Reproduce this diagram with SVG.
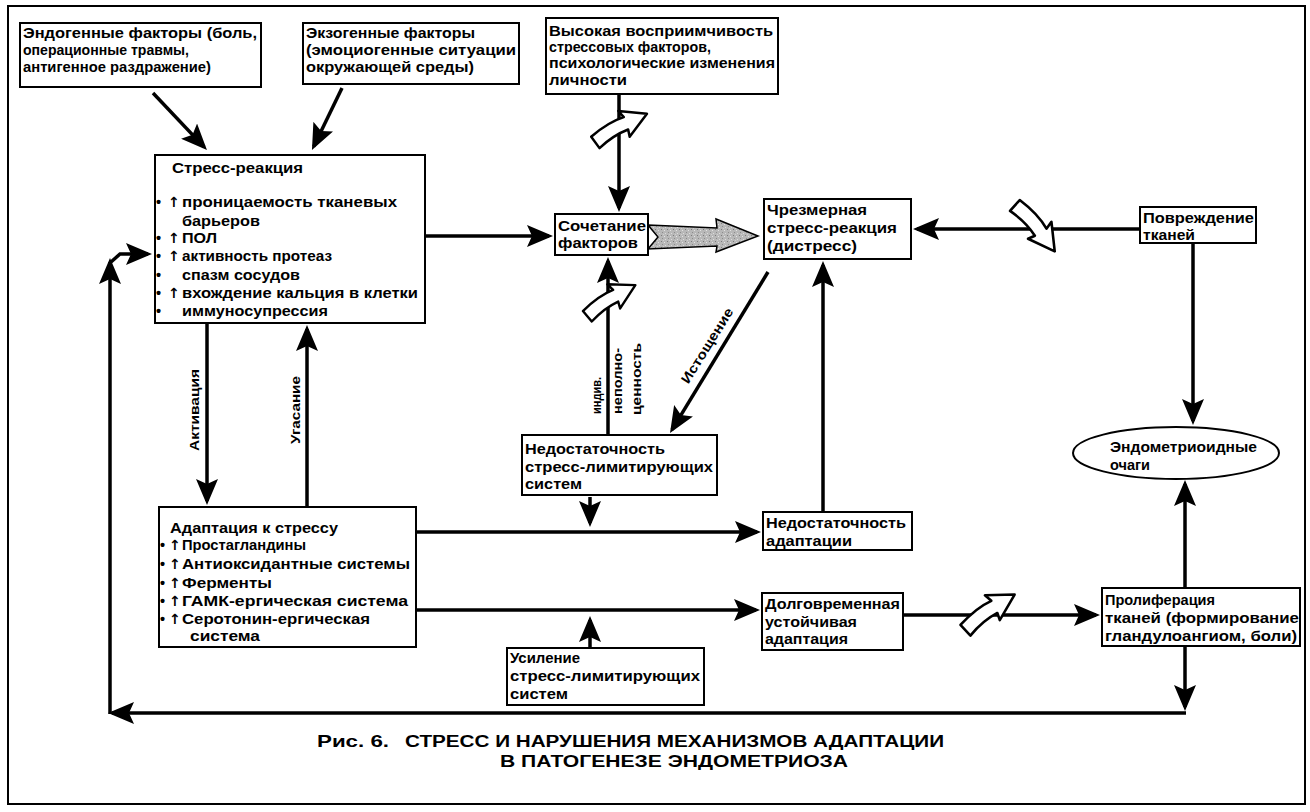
<svg xmlns="http://www.w3.org/2000/svg" width="1310" height="812" viewBox="0 0 1310 812">
<style>
.t{font-family:"Liberation Sans",Arial,"DejaVu Sans",sans-serif;font-weight:bold;font-size:14.5px;fill:#000}
.s{font-family:"Liberation Sans",Arial,"DejaVu Sans",sans-serif;font-weight:bold;font-size:13.5px;fill:#000}
.a{font-family:"DejaVu Sans","Liberation Sans",sans-serif;font-weight:bold;font-size:14px;fill:#000}
.cap{font-family:"Liberation Sans",Arial,sans-serif;font-weight:bold;font-size:16px;fill:#000}
.box{fill:#fff;stroke:#000;stroke-width:2}
.c{fill:none;stroke:#000;stroke-width:3.5}
.h{fill:#fff;stroke:#000;stroke-width:2.5;stroke-linejoin:round}
</style>
<defs>
<marker id="ah" viewBox="0 0 26 22" refX="22" refY="11" markerWidth="26" markerHeight="22" markerUnits="userSpaceOnUse" orient="auto">
<path d="M0,0 L26,11 L0,22 L5,11 Z" fill="#000"/>
</marker>
<pattern id="grain" width="6" height="6" patternUnits="userSpaceOnUse">
<rect width="6" height="6" fill="#b8b8b8"/>
<rect x="1" y="1" width="1" height="1" fill="#7a7a7a"/>
<rect x="4" y="2" width="1" height="1" fill="#e4e4e4"/>
<rect x="2" y="4" width="1" height="1" fill="#8c8c8c"/>
<rect x="5" y="5" width="1" height="1" fill="#dcdcdc"/>
<rect x="3" y="0" width="1" height="1" fill="#d0d0d0"/>
</pattern>
<path id="harrow" d="M0,-6 Q22,-11 38,-8 L36,-16 L60,0 L34,12 L36,5 Q20,3 2,8 Z"/>
</defs>
<rect width="1310" height="812" fill="#fff"/>
<rect x="8" y="6" width="1297" height="798" fill="none" stroke="#000" stroke-width="2"/>

<g id="connectors">
<path class="c" d="M153,93 L204.2,147.1" marker-end="url(#ah)"/>
<path class="c" d="M342,88 L313.7,146.4" marker-end="url(#ah)"/>
<path class="c" d="M425,236 L549,236" marker-end="url(#ah)"/>
<path class="c" d="M619,94 L619,208" marker-end="url(#ah)"/>
<path class="c" d="M608,435 L608,261" marker-end="url(#ah)"/>
<path class="c" d="M768,272 L672.1,429.6" marker-end="url(#ah)"/>
<path class="c" d="M1140,229 L917,229" marker-end="url(#ah)"/>
<path class="c" d="M1193,243 L1193,421" marker-end="url(#ah)"/>
<path class="c" d="M1185,588 L1185,484" marker-end="url(#ah)"/>
<path class="c" d="M1185,646 L1185,707" marker-end="url(#ah)"/>
<path class="c" d="M1186,713 L112,713" marker-end="url(#ah)"/>
<path class="c" d="M110,714 L110,262" marker-end="url(#ah)"/>
<path class="c" d="M111,262 L120,254 L148,254" marker-end="url(#ah)"/>
<path class="c" d="M207,323 L207,501" marker-end="url(#ah)"/>
<path class="c" d="M307,507 L307,329" marker-end="url(#ah)"/>
<path class="c" d="M416,532 L757,532" marker-end="url(#ah)"/>
<path class="c" d="M590,497 L590,523" marker-end="url(#ah)"/>
<path class="c" d="M590,648 L590,620" marker-end="url(#ah)"/>
<path class="c" d="M416,610 L756,610" marker-end="url(#ah)"/>
<path class="c" d="M823,512 L823,265" marker-end="url(#ah)"/>
<path class="c" d="M903,615 L1096,615" marker-end="url(#ah)"/>
<path d="M648,225 L717,228 L716,219 L758,236 L716,252 L717,246 L648,249 L658,237 Z" fill="url(#grain)" stroke="#000" stroke-width="1.5"/>
<use href="#harrow" class="h" transform="translate(594,142) rotate(-28)"/>
<use href="#harrow" class="h" transform="translate(586,316) rotate(-32) scale(0.97)"/>
<use href="#harrow" class="h" transform="translate(1015,204) rotate(50) scale(1.03)"/>
<use href="#harrow" class="h" transform="translate(964,630) rotate(-35) scale(1.03)"/>
<text class="s" transform="translate(199,410) rotate(-90)" text-anchor="middle" textLength="82" lengthAdjust="spacingAndGlyphs">Активация</text>
<text class="s" transform="translate(300,410) rotate(-90)" text-anchor="middle" textLength="68" lengthAdjust="spacingAndGlyphs">Угасание</text>
<text class="s" transform="translate(601,414) rotate(-90)" textLength="37" lengthAdjust="spacingAndGlyphs">индив.</text>
<text class="s" transform="translate(622,414) rotate(-90)" textLength="66" lengthAdjust="spacingAndGlyphs">неполно-</text>
<text class="s" transform="translate(641,415) rotate(-90)" textLength="72" lengthAdjust="spacingAndGlyphs">ценность</text>
<text class="s" transform="translate(711,348) rotate(-58)" text-anchor="middle" textLength="86" lengthAdjust="spacingAndGlyphs">Истощение</text>
</g>

<g id="n-endogenous">
<rect class="box" x="20" y="23" width="241" height="64"/>
<text class="t" x="23" y="38" textLength="234" lengthAdjust="spacingAndGlyphs">Эндогенные факторы (боль,</text>
<text class="t" x="23" y="55" textLength="166" lengthAdjust="spacingAndGlyphs">операционные травмы,</text>
<text class="t" x="23" y="72" textLength="188" lengthAdjust="spacingAndGlyphs">антигенное раздражение)</text>
</g>

<g id="n-exogenous">
<rect class="box" x="303" y="23" width="216" height="61"/>
<text class="t" x="306" y="38" textLength="169" lengthAdjust="spacingAndGlyphs">Экзогенные факторы</text>
<text class="t" x="306" y="55" textLength="210" lengthAdjust="spacingAndGlyphs">(эмоциогенные ситуации</text>
<text class="t" x="306" y="72" textLength="168" lengthAdjust="spacingAndGlyphs">окружающей среды)</text>
</g>

<g id="n-susceptibility">
<rect class="box" x="546" y="18" width="232" height="76"/>
<text class="t" x="549" y="36" textLength="224" lengthAdjust="spacingAndGlyphs">Высокая восприимчивость</text>
<text class="t" x="549" y="52" textLength="162" lengthAdjust="spacingAndGlyphs">стрессовых факторов,</text>
<text class="t" x="549" y="68" textLength="226" lengthAdjust="spacingAndGlyphs">психологические изменения</text>
<text class="t" x="549" y="85" textLength="78" lengthAdjust="spacingAndGlyphs">личности</text>
</g>

<g id="n-stress">
<rect class="box" x="155" y="155" width="270" height="168"/>
<text class="t" x="172" y="173" textLength="131" lengthAdjust="spacingAndGlyphs">Стресс-реакция</text>
<text class="t" x="156" y="207">•</text><text class="a" x="168" y="207">↑</text>
<text class="t" x="182" y="207" textLength="215" lengthAdjust="spacingAndGlyphs">проницаемость тканевых</text>
<text class="t" x="182" y="226" textLength="78" lengthAdjust="spacingAndGlyphs">барьеров</text>
<text class="t" x="156" y="243">•</text><text class="a" x="168" y="243">↑</text>
<text class="t" x="182" y="243" textLength="35" lengthAdjust="spacingAndGlyphs">ПОЛ</text>
<text class="t" x="156" y="261">•</text><text class="a" x="168" y="261">↑</text>
<text class="t" x="182" y="261" textLength="150" lengthAdjust="spacingAndGlyphs">активность протеаз</text>
<text class="t" x="156" y="280">•</text>
<text class="t" x="182" y="280" textLength="118" lengthAdjust="spacingAndGlyphs">спазм сосудов</text>
<text class="t" x="156" y="298">•</text><text class="a" x="168" y="298">↑</text>
<text class="t" x="182" y="298" textLength="236" lengthAdjust="spacingAndGlyphs">вхождение кальция в клетки</text>
<text class="t" x="156" y="316">•</text>
<text class="t" x="182" y="316" textLength="146" lengthAdjust="spacingAndGlyphs">иммуносупрессия</text>
</g>

<g id="n-combination">
<rect class="box" x="555" y="214" width="93" height="41"/>
<text class="t" x="558" y="231" textLength="88" lengthAdjust="spacingAndGlyphs">Сочетание</text>
<text class="t" x="558" y="248" textLength="80" lengthAdjust="spacingAndGlyphs">факторов</text>
</g>

<g id="n-distress">
<rect class="box" x="764" y="199" width="147" height="60"/>
<text class="t" x="767" y="215" textLength="100" lengthAdjust="spacingAndGlyphs">Чрезмерная</text>
<text class="t" x="767" y="233" textLength="130" lengthAdjust="spacingAndGlyphs">стресс-реакция</text>
<text class="t" x="767" y="251" textLength="90" lengthAdjust="spacingAndGlyphs">(дистресс)</text>
</g>

<g id="n-damage">
<rect class="box" x="1140" y="207" width="116" height="36"/>
<text class="t" x="1143" y="223" textLength="111" lengthAdjust="spacingAndGlyphs">Повреждение</text>
<text class="t" x="1143" y="240" textLength="52" lengthAdjust="spacingAndGlyphs">тканей</text>
</g>

<g id="n-foci">
<ellipse cx="1176" cy="453" rx="103" ry="26" fill="#fff" stroke="#000" stroke-width="2"/>
<text class="t" x="1110" y="452" textLength="147" lengthAdjust="spacingAndGlyphs">Эндометриоидные</text>
<text class="t" x="1110" y="470" textLength="40" lengthAdjust="spacingAndGlyphs">очаги</text>
</g>

<g id="n-proliferation">
<rect class="box" x="1102" y="588" width="198" height="58"/>
<text class="t" x="1105" y="605" textLength="110" lengthAdjust="spacingAndGlyphs">Пролиферация</text>
<text class="t" x="1105" y="623" textLength="194" lengthAdjust="spacingAndGlyphs">тканей (формирование</text>
<text class="t" x="1105" y="641" textLength="192" lengthAdjust="spacingAndGlyphs">гландулоангиом, боли)</text>
</g>

<g id="n-limit-insufficiency">
<rect class="box" x="522" y="435" width="195" height="60"/>
<text class="t" x="525" y="454" textLength="140" lengthAdjust="spacingAndGlyphs">Недостаточность</text>
<text class="t" x="525" y="472" textLength="188" lengthAdjust="spacingAndGlyphs">стресс-лимитирующих</text>
<text class="t" x="525" y="489" textLength="57" lengthAdjust="spacingAndGlyphs">систем</text>
</g>

<g id="n-adapt-insufficiency">
<rect class="box" x="763" y="512" width="149" height="38"/>
<text class="t" x="766" y="528" textLength="140" lengthAdjust="spacingAndGlyphs">Недостаточность</text>
<text class="t" x="766" y="546" textLength="86" lengthAdjust="spacingAndGlyphs">адаптации</text>
</g>

<g id="n-longterm">
<rect class="box" x="762" y="593" width="141" height="57"/>
<text class="t" x="765" y="609" textLength="135" lengthAdjust="spacingAndGlyphs">Долговременная</text>
<text class="t" x="765" y="627" textLength="92" lengthAdjust="spacingAndGlyphs">устойчивая</text>
<text class="t" x="765" y="644" textLength="83" lengthAdjust="spacingAndGlyphs">адаптация</text>
</g>

<g id="n-adaptation">
<rect class="box" x="159" y="507" width="257" height="140"/>
<text class="t" x="170" y="533" textLength="168" lengthAdjust="spacingAndGlyphs">Адаптация к стрессу</text>
<text class="t" x="160" y="550">•</text><text class="a" x="169" y="550">↑</text>
<text class="t" x="182" y="550" textLength="124" lengthAdjust="spacingAndGlyphs">Простагландины</text>
<text class="t" x="160" y="569">•</text><text class="a" x="169" y="569">↑</text>
<text class="t" x="182" y="569" textLength="228" lengthAdjust="spacingAndGlyphs">Антиоксидантные системы</text>
<text class="t" x="160" y="588">•</text><text class="a" x="169" y="588">↑</text>
<text class="t" x="182" y="588" textLength="90" lengthAdjust="spacingAndGlyphs">Ферменты</text>
<text class="t" x="160" y="606">•</text><text class="a" x="169" y="606">↑</text>
<text class="t" x="182" y="606" textLength="226" lengthAdjust="spacingAndGlyphs">ГАМК-ергическая система</text>
<text class="t" x="160" y="624">•</text><text class="a" x="169" y="624">↑</text>
<text class="t" x="182" y="624" textLength="188" lengthAdjust="spacingAndGlyphs">Серотонин-ергическая</text>
<text class="t" x="190" y="641" textLength="70" lengthAdjust="spacingAndGlyphs">система</text>
</g>

<g id="n-limit-enhancement">
<rect class="box" x="507" y="648" width="197" height="57"/>
<text class="t" x="510" y="663" textLength="70" lengthAdjust="spacingAndGlyphs">Усиление</text>
<text class="t" x="510" y="681" textLength="190" lengthAdjust="spacingAndGlyphs">стресс-лимитирующих</text>
<text class="t" x="510" y="699" textLength="58" lengthAdjust="spacingAndGlyphs">систем</text>
</g>

<g id="caption">
<text class="cap" x="317" y="747" style="font-size:17px" textLength="72" lengthAdjust="spacingAndGlyphs">Рис. 6.</text>
<text class="cap" x="405" y="747" textLength="539" lengthAdjust="spacingAndGlyphs">СТРЕСС И НАРУШЕНИЯ МЕХАНИЗМОВ АДАПТАЦИИ</text>
<text class="cap" x="500" y="767" textLength="348" lengthAdjust="spacingAndGlyphs">В ПАТОГЕНЕЗЕ ЭНДОМЕТРИОЗА</text>
</g>
</svg>
